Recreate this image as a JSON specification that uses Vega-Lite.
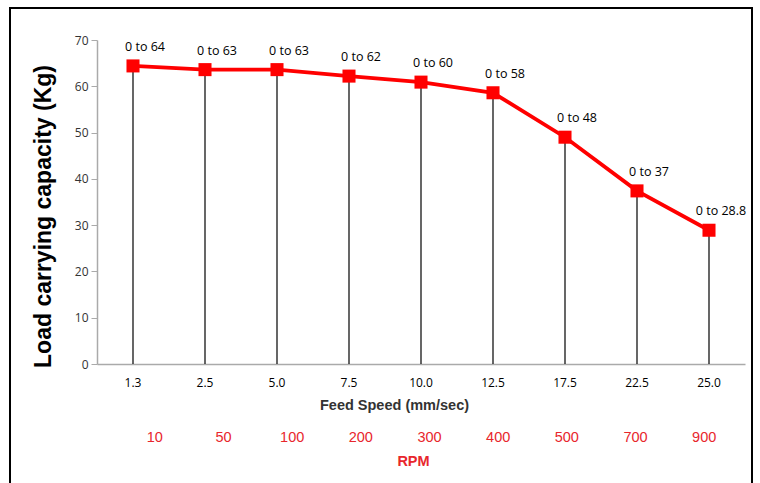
{
  "$schema": "https://vega.github.io/schema/vega-lite/v6.json",
  "width": 742,
  "height": 480,
  "padding": {"left": 10, "top": 8, "right": 8, "bottom": 0},
  "config": {
    "view": {"stroke": "#000000", "strokeWidth": 2},
    "font": "Open Sans"
  },
  "data": {
    "values": [
      {"speed": "1.3", "rpm": "10", "load": 64.4, "label": "0 to 64"},
      {"speed": "2.5", "rpm": "50", "load": 63.6, "label": "0 to 63"},
      {"speed": "5.0", "rpm": "100", "load": 63.6, "label": "0 to 63"},
      {"speed": "7.5", "rpm": "200", "load": 62.2, "label": "0 to 62"},
      {"speed": "10.0", "rpm": "300", "load": 60.9, "label": "0 to 60"},
      {"speed": "12.5", "rpm": "400", "load": 58.6, "label": "0 to 58"},
      {"speed": "17.5", "rpm": "500", "load": 49.0, "label": "0 to 48"},
      {"speed": "22.5", "rpm": "700", "load": 37.4, "label": "0 to 37"},
      {"speed": "25.0", "rpm": "900", "load": 28.9, "label": "0 to 28.8"}
    ]
  },
  "resolve": {"scale": {"x": "independent"}, "axis": {"x": "independent"}},
  "layer": [
    {
      "encoding": {
        "x": {
          "field": "speed", "type": "ordinal", "sort": null,
          "scale": {"range": [87, 735], "paddingInner": 0, "paddingOuter": 0},
          "axis": {
            "orient": "bottom", "offset": -124, "labelAngle": 0,
            "ticks": false, "domainColor": "#aaaaaa", "domainWidth": 1.5,
            "labelFont": "Open Sans", "labelFontSize": 12, "labelColor": "#000000", "labelPadding": 13,
            "title": "Feed Speed (mm/sec)", "titleFont": "Liberation Sans", "titleFontSize": 14.5,
            "titleFontWeight": "bold", "titleColor": "#333333", "titlePadding": 10, "titleX": 384
          }
        },
        "y": {
          "field": "load", "type": "quantitative",
          "scale": {"domain": [0, 70], "range": [356, 32], "nice": false, "zero": false},
          "axis": {
            "orient": "left", "offset": -87, "values": [0, 10, 20, 30, 40, 50, 60, 70],
            "grid": false, "domainColor": "#aaaaaa", "domainWidth": 1.5, "tickColor": "#aaaaaa",
            "tickSize": 6, "labelPadding": 3, "labelFont": "Open Sans", "labelFontSize": 12,
            "labelColor": "#333333",
            "title": "Load carrying capacity (Kg)", "titleFont": "Liberation Sans",
            "titleFontSize": 23, "titleFontWeight": "bold", "titleColor": "#000000",
            "titleX": -54, "titleY": 208, "titleAlign": "center", "titleBaseline": "middle", "titleAngle": 270
          }
        }
      },
      "layer": [
        {
          "mark": {"type": "rule", "color": "#000000", "strokeWidth": 1.2},
          "encoding": {"y2": {"datum": 0}}
        },
        {
          "mark": {"type": "line", "color": "#ff0000", "strokeWidth": 3.8}
        },
        {
          "mark": {"type": "point", "shape": "square", "filled": true, "color": "#ff0000", "size": 170, "opacity": 1}
        },
        {
          "mark": {"type": "text", "dx": 12, "dy": -19, "fontSize": 12.5, "font": "Open Sans", "color": "#000000"},
          "encoding": {"text": {"field": "label"}}
        }
      ]
    },
    {
      "mark": {"type": "point", "opacity": 0},
      "encoding": {
        "x": {
          "field": "rpm", "type": "ordinal", "sort": null,
          "scale": {"range": [110, 728], "paddingInner": 0, "paddingOuter": 0},
          "axis": {
            "orient": "bottom", "offset": -68, "labelAngle": 0, "ticks": false, "domain": false,
            "labelFont": "Liberation Sans", "labelFontSize": 14.5, "labelColor": "#e8262c", "labelPadding": 10,
            "title": "RPM", "titleFont": "Liberation Sans", "titleFontSize": 14.5, "titleFontWeight": "bold",
            "titleColor": "#e8262c", "titlePadding": 11, "titleX": 403
          }
        },
        "y": {"field": "load", "type": "quantitative"}
      }
    }
  ]
}
